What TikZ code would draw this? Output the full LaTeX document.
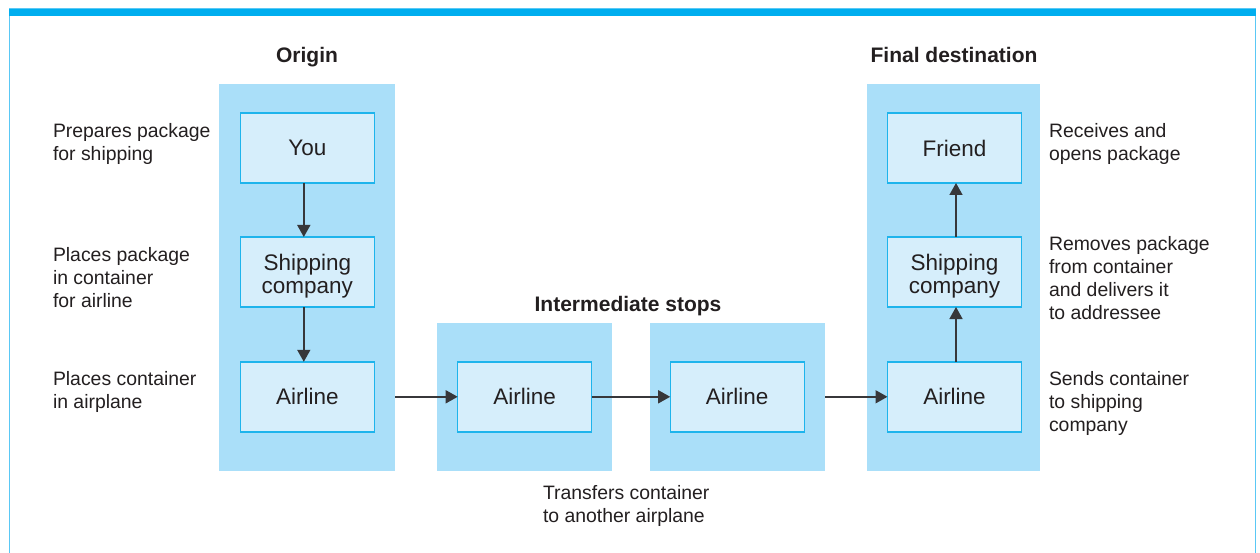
\documentclass[tikz,border=0pt]{standalone}
\usepackage{fontspec}
\setmainfont{Liberation Sans}
\usetikzlibrary{arrows.meta}
\definecolor{topbar}{RGB}{0,174,239}
\definecolor{framecol}{RGB}{90,200,245}
\definecolor{bgcol}{RGB}{170,223,249}
\definecolor{boxfill}{RGB}{214,238,251}
\definecolor{boxline}{RGB}{30,180,236}
\definecolor{txt}{RGB}{35,31,32}
\definecolor{arrcol}{RGB}{55,55,58}
\begin{document}
\begin{tikzpicture}[x=1pt,y=-1pt,
  colbg/.style={fill=bgcol, draw=none, inner sep=0pt, outer sep=0pt},
  stagebox/.style={fill=boxfill, draw=boxline, line width=1.4pt, minimum width=134pt, minimum height=70pt, inner sep=0pt, outer sep=0pt, align=center, text=txt, font=\fontsize{22.5}{23}\selectfont},
  note/.style={align=left, text=txt, inner sep=0pt, outer sep=0pt, font=\fontsize{19.4}{23}\selectfont},
  ttl/.style={text=txt, inner sep=0pt, font=\fontsize{21}{25}\selectfont\bfseries},
  arr/.style={draw=arrcol, line width=1.6pt, -{Triangle[length=12pt,width=13pt]}}
]
\useasboundingbox (0,0) rectangle (1260,553);
\fill[white] (0,0) rectangle (1260,553);
% frame
\draw[framecol, line width=1.5pt] (9.6,10) -- (9.6,553);
\draw[framecol, line width=1.5pt] (1255.4,10) -- (1255.4,553);
\fill[framecol] (9,7.8) rectangle (1256.3,9.2);
\fill[topbar] (9,8.6) rectangle (1256.3,16);

% column backgrounds
\node[colbg, minimum width=176pt, minimum height=387pt] (origbg) at (307,277.5) {};
\node[colbg, minimum width=175pt, minimum height=148pt] (int1bg) at (524.5,397) {};
\node[colbg, minimum width=175pt, minimum height=148pt] (int2bg) at (737.5,397) {};
\node[colbg, minimum width=173pt, minimum height=387pt] (finbg) at (953.5,277.5) {};

% titles
\node[ttl, anchor=base] (tor) at (307,63) {Origin};
\node[ttl, anchor=base] (tint) at (628,311) {Intermediate stops};
\node[ttl, anchor=base] (tfin) at (954,63) {Final destination};

% boxes
\node[stagebox] (you) at (307.3,148) {You};
\node[stagebox] (oship) at (307.3,272) {\rule{0pt}{24pt}Shipping\\company};
\node[stagebox] (oair) at (307.3,396.8) {Airline};
\node[stagebox] (i1air) at (524.7,396.8) {Airline};
\node[stagebox] (i2air) at (737.2,396.8) {Airline};
\node[stagebox] (fair) at (954.5,396.8) {Airline};
\node[stagebox] (fship) at (954.5,272) {\rule{0pt}{24pt}Shipping\\company};
\node[stagebox] (friend) at (954.5,148) {Friend};

% arrows
\draw[arr] ([xshift=-3.5pt]you.south) -- ([xshift=-3.5pt]oship.north);
\draw[arr] ([xshift=-3.5pt]oship.south) -- ([xshift=-3.5pt]oair.north);
\draw[arr] (origbg.east |- oair.center) -- (i1air.west);
\draw[arr] (i1air.east) -- (i2air.west);
\draw[arr] (int2bg.east |- i2air.center) -- (fair.west);
\draw[arr] ([xshift=1.5pt]fair.north) -- ([xshift=1.5pt]fship.south);
\draw[arr] ([xshift=1.5pt]fship.north) -- ([xshift=1.5pt]friend.south);

% notes (anchor = baseline of last line)
\node[note, anchor=base west] (n1) at (53,160.3) {Prepares package\\for shipping};
\node[note, anchor=base west] (n2) at (53,307) {Places package\\in container\\for airline};
\node[note, anchor=base west] (n3) at (53,408) {Places container\\in airplane};
\node[note, anchor=base west] (n4) at (1049,160.3) {Receives and\\opens package};
\node[note, anchor=base west] (n5) at (1049,319) {Removes package\\from container\\and delivers it\\to addressee};
\node[note, anchor=base west] (n6) at (1049,431) {Sends container\\to shipping\\company};
\node[note, anchor=base west] (n7) at (543,522) {Transfers container\\to another airplane};
\end{tikzpicture}
\end{document}
